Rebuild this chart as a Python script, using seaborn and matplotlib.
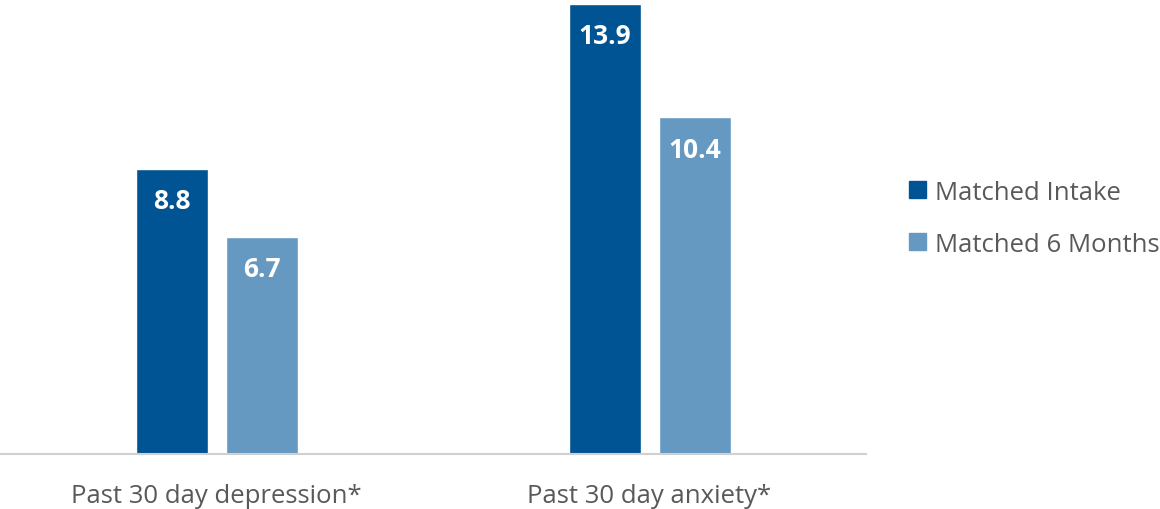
import matplotlib
matplotlib.use("Agg")
import matplotlib.pyplot as plt
import seaborn as sns
import pandas as pd

categories = ["Past 30 day depression*", "Past 30 day anxiety*"]
series = ["Matched Intake", "Matched 6 Months"]
intake = [8.8, 13.9]
six_months = [6.7, 10.4]
colors = ["#005493", "#6699C2"]

df = pd.DataFrame({
    "category": categories * 2,
    "series": [series[0]] * 2 + [series[1]] * 2,
    "value": intake + six_months,
})

sns.set_theme(style="white")
plt.rcParams["font.family"] = ["Open Sans", "DejaVu Sans"]

fig = plt.figure(figsize=(11.6, 5.1), dpi=100)
ax = fig.add_axes([0.0, 0.108, 0.7466, 0.892])

sns.barplot(data=df, x="category", y="value", hue="series", palette=colors,
            width=0.4157, gap=0.2, ax=ax, legend=False, saturation=1)

ax.set_ylim(0, 14.05)
ax.set_xlim(-0.5, 1.5)
ax.set_xlabel("")
ax.set_ylabel("")
ax.set_yticks([])
for s in ["top", "left", "right"]:
    ax.spines[s].set_visible(False)
ax.spines["bottom"].set_color("#D0D0D0")
ax.spines["bottom"].set_linewidth(1.5)
ax.tick_params(axis="x", length=0, pad=21, labelsize=18.5, labelcolor="#595959")

for cont in ax.containers:
    for bar in cont:
        h = bar.get_height()
        ax.annotate(f"{h:.1f}", (bar.get_x() + bar.get_width() / 2, h),
                    xytext=(0, -23), textcoords="offset points", ha="center",
                    va="center", color="white", fontsize=19, fontweight="bold")

handles = [plt.Rectangle((0, 0), 1, 1, color=c) for c in colors]
fig.legend(handles, series, loc="center left", bbox_to_anchor=(0.764, 0.57),
           frameon=False, fontsize=18.5, labelcolor="#595959", handlelength=0.65,
           handleheight=0.65, handletextpad=0.35, labelspacing=1.05)

fig.savefig("out.png", dpi=100)
